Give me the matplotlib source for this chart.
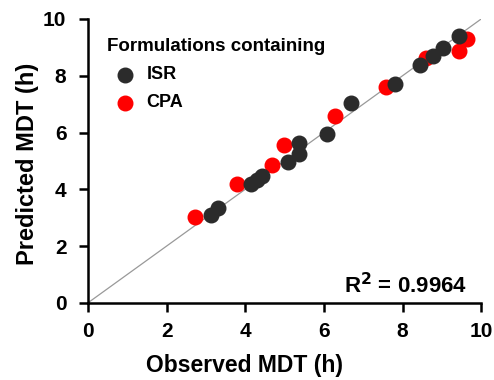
import matplotlib.pyplot as plt

plt.rcParams["font.family"] = ["Liberation Sans", "DejaVu Sans"]
plt.rcParams["font.weight"] = "bold"

# observed vs predicted MDT (h)
isr_obs = [3.13, 3.31, 4.15, 4.30, 4.43, 5.09, 5.37, 5.37, 6.08, 6.69, 7.81, 8.45, 8.78, 9.03, 9.44]
isr_pred = [3.10, 3.35, 4.19, 4.33, 4.47, 4.96, 5.63, 5.25, 5.95, 7.04, 7.71, 8.38, 8.70, 8.98, 9.40]
cpa_obs = [2.72, 3.79, 4.68, 4.99, 6.28, 7.58, 8.60, 9.44, 9.64]
cpa_pred = [3.03, 4.19, 4.86, 5.56, 6.58, 7.61, 8.63, 8.87, 9.30]
r2_text = "R$^2$ = 0.9964"

fig = plt.figure(figsize=(4.94, 3.80), dpi=100)
ax = fig.add_axes([0.178, 0.203, 0.796, 0.747])

ax.plot([0, 10], [0, 10], color="#999999", linewidth=0.9, zorder=1)
ax.scatter(isr_obs, isr_pred, s=110, color="#2b2b2b", label="ISR", zorder=3)
ax.scatter(cpa_obs, cpa_pred, s=110, color="#ff0000", label="CPA", zorder=2)

ax.set_xlim(0, 10)
ax.set_ylim(0, 10)
ax.set_xticks(range(0, 11, 2))
ax.set_yticks(range(0, 11, 2))
ax.spines["top"].set_visible(False)
ax.spines["right"].set_visible(False)
for s in ("left", "bottom"):
    ax.spines[s].set_linewidth(1.8)
ax.tick_params(width=1.8, length=6.5, labelsize=15)
ax.tick_params(axis="x", pad=7)
ax.tick_params(axis="y", pad=9)
for lab in ax.get_xticklabels() + ax.get_yticklabels():
    lab.set_fontweight("bold")

ax.set_xlabel("Observed MDT (h)", fontsize=16.5, fontweight="bold")
ax.set_ylabel("Predicted MDT (h)", fontsize=17, fontweight="bold")
ax.xaxis.set_label_coords(0.397, -0.18)
ax.yaxis.set_label_coords(-0.124, 0.49)

leg = ax.legend(loc="upper left", bbox_to_anchor=(0.03, 0.958), frameon=False,
                title="Formulations containing", handletextpad=0.2,
                borderaxespad=0, labelspacing=0.62,
                prop={"size": 13, "weight": "bold"},
                title_fontproperties={"size": 13.5, "weight": "bold"})
leg._legend_box.align = "left"
leg._legend_box.sep = 8

ax.text(0.964, 0.035, r2_text, transform=ax.transAxes, ha="right", va="baseline",
        fontsize=16, fontweight="bold")

fig.savefig("out.png", dpi=100)
